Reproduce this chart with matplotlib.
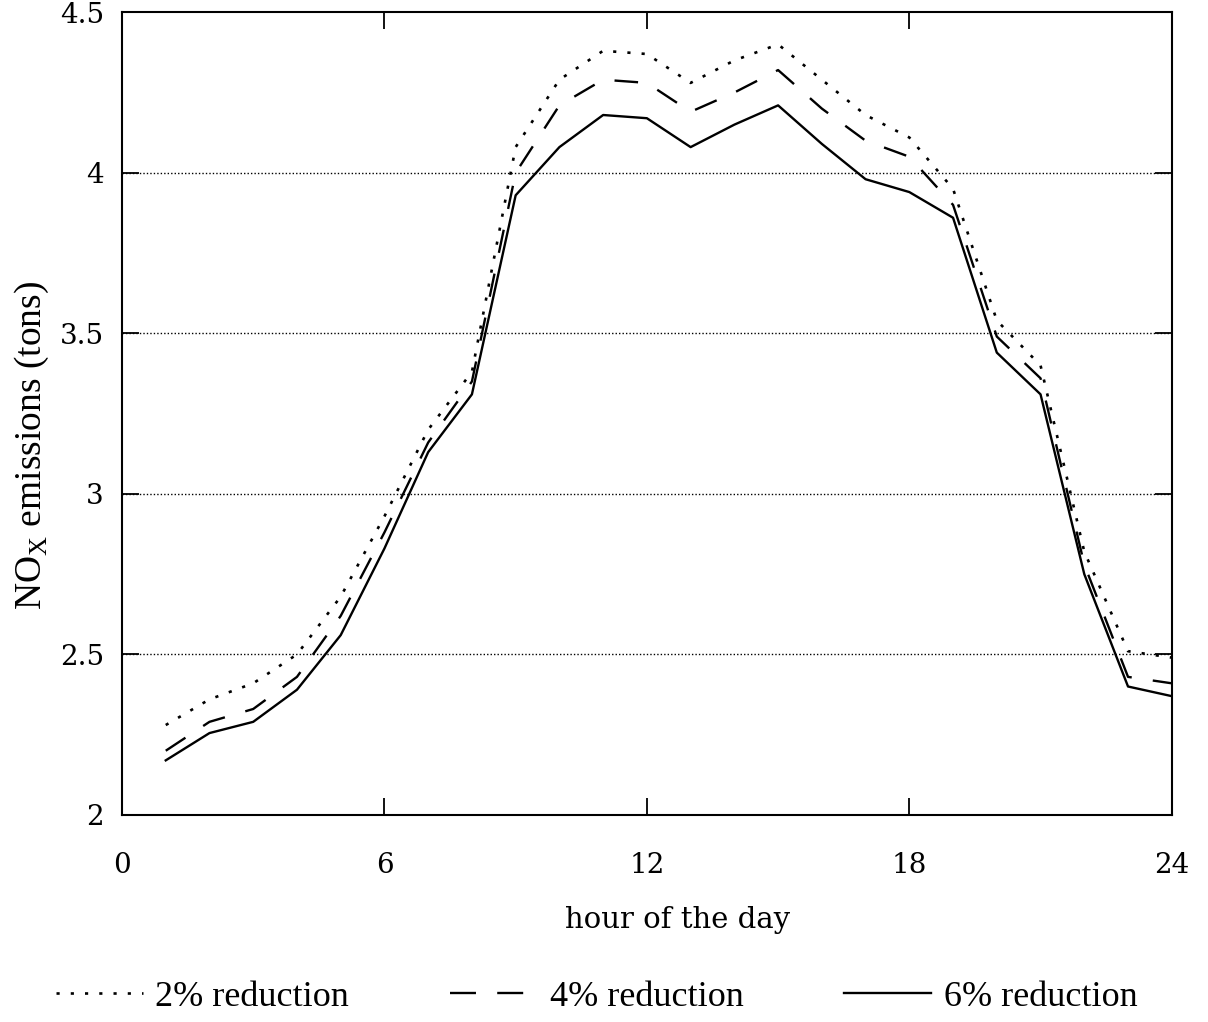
import numpy as np
import matplotlib
matplotlib.use('Agg')
import matplotlib.pyplot as plt
from matplotlib.lines import Line2D

# hourly NOx emissions
hours = list(range(1, 25))
red_2 = [2.28, 2.36, 2.41, 2.50, 2.68, 2.93, 3.20, 3.38, 4.08, 4.29, 4.38, 4.37,
         4.28, 4.35, 4.40, 4.29, 4.18, 4.11, 3.95, 3.54, 3.40, 2.82, 2.51, 2.49]
red_4 = [2.20, 2.29, 2.33, 2.43, 2.62, 2.88, 3.16, 3.35, 4.00, 4.21, 4.29, 4.28,
         4.19, 4.25, 4.32, 4.20, 4.10, 4.05, 3.90, 3.49, 3.36, 2.78, 2.43, 2.41]
red_6 = [2.17, 2.255, 2.29, 2.39, 2.56, 2.83, 3.13, 3.31, 3.93, 4.08, 4.18, 4.17,
         4.08, 4.15, 4.21, 4.09, 3.98, 3.94, 3.86, 3.44, 3.31, 2.75, 2.40, 2.37]
labels = ["2% reduction", "4% reduction", "6% reduction"]

xticks = [0, 6, 12, 18, 24]
yticks = [2, 2.5, 3, 3.5, 4, 4.5]
ytick_labels = ["2", "2.5", "3", "3.5", "4", "4.5"]

dot_style = (0, (1.2, 4.2))
dash_style = (0, (10, 9))

fig = plt.figure(figsize=(12.08, 10.22), dpi=100)
ax = fig.add_axes([0.101, 0.2026, 0.869, 0.7854])

ax.plot(hours, red_2, color='black', lw=1.9, linestyle=dot_style)
ax.plot(hours, red_4, color='black', lw=1.7, linestyle=dash_style)
ax.plot(hours, red_6, color='black', lw=1.7, linestyle='-')

for y in [2.5, 3, 3.5, 4]:
    ax.axhline(y, color='black', lw=1.0, linestyle=(0, (1, 1.5)), zorder=0)

ax.set_xlim(0, 24)
ax.set_ylim(2, 4.5)
ax.set_xticks(xticks)
ax.set_yticks(yticks)
ax.set_yticklabels(ytick_labels)
ax.tick_params(direction='in', length=12, width=1.3, top=True, right=True,
               labelsize=20)
ax.tick_params(axis='x', pad=27)
ax.tick_params(axis='y', pad=13)
for lab in ax.get_xticklabels() + ax.get_yticklabels():
    lab.set_family('DejaVu Serif')
for s in ax.spines.values():
    s.set_linewidth(1.5)

ax.set_xlabel("hour of the day", family='DejaVu Serif', fontsize=21)
ax.xaxis.set_label_coords(0.529, -0.113)
ax.set_ylabel("NO$_\\mathregular{X}$ emissions (tons)", family='Liberation Serif',
              fontsize=27)
ax.yaxis.set_label_coords(-0.068, 0.46)

# legend with its own sample lines
handles = [Line2D([], [], color='black', lw=1.9, linestyle=dot_style),
           Line2D([], [], color='black', lw=1.7, linestyle=(0, (11, 9))),
           Line2D([], [], color='black', lw=1.7, linestyle='-')]
fig.legend(handles, labels, loc='center', bbox_to_anchor=(0.494, 0.024), ncol=3,
           frameon=False, prop={'family': 'Liberation Serif', 'size': 26},
           handlelength=2.4, columnspacing=2.8, handletextpad=0.35)

fig.savefig('out.png', dpi=100, facecolor='white')
